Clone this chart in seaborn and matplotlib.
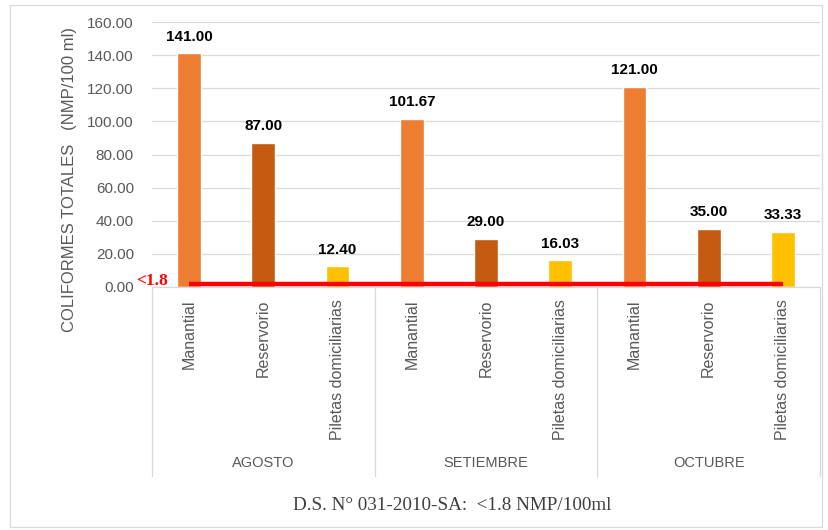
import matplotlib
matplotlib.use("Agg")
import matplotlib.pyplot as plt
import matplotlib.transforms as mtransforms
from matplotlib.patches import Rectangle
import seaborn as sns
import pandas as pd

# Data
months = ["AGOSTO", "SETIEMBRE", "OCTUBRE"]
sites = ["Manantial", "Reservorio", "Piletas domiciliarias"]
values = [
    [141.00, 87.00, 12.40],   # AGOSTO
    [101.67, 29.00, 16.03],   # SETIEMBRE
    [121.00, 35.00, 33.33],   # OCTUBRE
]
limit_value = 1.8
yticks = [0, 20, 40, 60, 80, 100, 120, 140, 160]
site_colors = {"Manantial": "#ED7D31", "Reservorio": "#C55A11",
               "Piletas domiciliarias": "#FFC000"}

rows = []
for m, vals in zip(months, values):
    for s, v in zip(sites, vals):
        rows.append({"month": m, "site": s, "value": v, "key": f"{m}|{s}"})
df = pd.DataFrame(rows)
order = list(df["key"])
limit = [limit_value] * len(order)

sns.set_theme(style="white")
plt.rcParams["font.family"] = ["Liberation Sans", "DejaVu Sans"]

fig = plt.figure(figsize=(8.29, 5.30), dpi=100)
ax = fig.add_axes([152 / 829, 1 - 287 / 530, 668 / 829, 265 / 530])

sns.barplot(data=df, x="key", y="value", hue="site", order=order,
            hue_order=sites, palette=site_colors, dodge=False, width=0.32,
            saturation=1, legend=False, ax=ax, zorder=2)

for cont in ax.containers:
    ax.bar_label(cont, fmt="%.2f", padding=7, fontsize=11,
                 fontweight="bold", color="black")

# Limit line
ax.plot(range(len(order)), limit, color="#FF0000", lw=3.2, zorder=4,
        solid_capstyle="butt")
ax.annotate("<1.8", xy=(0, limit_value), xytext=(-15, 2.5),
            textcoords="offset points", ha="right", va="center",
            color="#FF0000", fontweight="bold", fontsize=12.5,
            family="Liberation Serif", annotation_clip=False)

ax.set_xlim(-0.5, len(order) - 0.5)
ax.set_ylim(0, 160)
ax.set_yticks(yticks)
ax.set_yticklabels([f"{t:.2f}" for t in yticks])
ax.yaxis.grid(True, color="#D9D9D9", lw=0.9, zorder=0)
ax.set_axisbelow(True)

ax.set_xticks(range(len(order)))
ax.set_xticklabels([k.split("|")[1] for k in order], rotation=90,
                   va="top", ha="center")
ax.tick_params(axis="x", length=0, pad=9, labelsize=11.5, labelcolor="#595959")
ax.tick_params(axis="y", length=0, pad=13, labelsize=11, labelcolor="#595959")

for side in ["left", "right", "top"]:
    ax.spines[side].set_visible(False)
ax.spines["bottom"].set_color("#D9D9D9")
ax.spines["bottom"].set_linewidth(0.9)

ax.set_xlabel("")
ax.set_ylabel("COLIFORMES TOTALES   (NMP/100 ml)", fontsize=12,
              color="#595959")
ax.yaxis.set_label_coords(-0.113, 0.404)

# Month group separators and labels
trans = mtransforms.blended_transform_factory(ax.transData, ax.transAxes)
for xb in [-0.5, 2.5, 5.5, 8.5]:
    ax.plot([xb, xb], [0, -0.713], color="#D9D9D9", lw=0.9,
            transform=trans, clip_on=False)
for i, m in enumerate(months):
    ax.text(i * 3 + 1, -0.665, m, transform=trans, ha="center", va="center",
            fontsize=10.5, color="#595959")

fig.text(452 / 829, 1 - 505 / 530, "D.S. N° 031-2010-SA:  <1.8 NMP/100ml",
         ha="center", va="center", fontsize=13.8, color="#404040",
         family="Liberation Serif")

fig.patches.append(Rectangle((10 / 829, 1 - 527 / 530), 812 / 829, 522 / 530,
                             transform=fig.transFigure, fill=False,
                             edgecolor="#D9D9D9", lw=0.9))

fig.savefig("out.png", dpi=100)
